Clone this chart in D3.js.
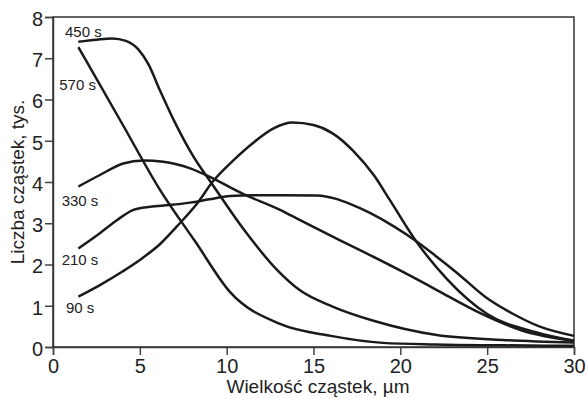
<!DOCTYPE HTML>
<html>
  <head>
    <meta charset='utf-8'>
    <title>Liczba cząstek</title>
    <script src='https://d3js.org/d3.v7.min.js'></script>
  </head>
  <style>
    body {margin:0; background:white;}
    .tick text {font-family:'Liberation Sans',Arial,sans-serif; font-size:20px; fill:#222;}
    .axis_title {font-family:'Liberation Sans',Arial,sans-serif; font-size:19px; fill:#222;}
    .curve_label {font-family:'Liberation Sans',Arial,sans-serif; font-size:15px; fill:#222;}
  </style>
  <body>
    <svg id='chart'></svg>
<script>
  // values: particle size (um) vs count (thousands)
  var seriesNames=['90 s','210 s','330 s','450 s','570 s'];
  var size90=[1.46,2.7,4.0,5.0,6.2,7.3,8.3,9.2,10.4,11.5,12.7,13.8,15.0,16.1,17.3,18.5,19.4,20.9,22.7,25.0,27.8,30];
  var count90=[1.22,1.50,1.83,2.11,2.51,3.00,3.48,4.01,4.53,4.94,5.30,5.44,5.38,5.18,4.75,4.15,3.56,2.57,1.64,0.80,0.36,0.15];
  var size210=[1.46,2.7,3.7,4.6,5.6,6.7,7.9,9.0,10.2,11.5,13.1,15.2,16.3,17.1,18.25,19.6,20.9,22.0,23.2,25.0,26.5,28.0,30];
  var count210=[2.39,2.76,3.08,3.32,3.40,3.44,3.50,3.58,3.66,3.68,3.68,3.67,3.59,3.47,3.25,2.93,2.57,2.22,1.82,1.18,0.80,0.50,0.27];
  var size330=[1.46,2.7,4.05,5.2,6.35,7.9,9.0,10.2,10.8,13.1,14.2,16.5,18.25,20.7,22.1,24.6,27.0,30];
  var count330=[3.89,4.17,4.45,4.52,4.49,4.33,4.13,3.87,3.74,3.32,3.08,2.59,2.23,1.70,1.38,0.82,0.40,0.15];
  var size450=[1.46,2.5,3.4,4.2,4.9,5.5,6.16,7.12,8.08,9.13,11.0,12.9,14.2,16.1,18.5,22.1,25.9,30];
  var count450=[7.40,7.45,7.48,7.42,7.22,6.85,6.22,5.36,4.62,3.97,2.84,1.87,1.38,0.98,0.63,0.29,0.17,0.11];
  var size570=[1.46,4.0,6.16,8.2,10.2,13.07,16.0,19.0,22.0,26.0,30];
  var count570=[7.27,5.40,3.81,2.55,1.33,0.56,0.27,0.10,0.06,0.04,0.03];
  var xTicks=[0,5,10,15,20,25,30], yTicks=[0,1,2,3,4,5,6,7,8];
  // label anchors in data units (left, baseline)
  var labelSize=[0.75,0.50,0.50,0.69,0.36], labelCount=[0.82,1.99,3.42,7.52,6.23];

  var width=587, height=399;
  var margin={top:17,right:13,bottom:52,left:53};
  var svg=d3.select('#chart').attr('width',width).attr('height',height);
  var x=d3.scaleLinear().domain([0,30]).range([margin.left,width-margin.right]),
      y=d3.scaleLinear().domain([0,8]).range([height-margin.bottom,margin.top]);

  var sizes=[size90,size210,size330,size450,size570],
      counts=[count90,count210,count330,count450,count570];
  var series=seriesNames.map(function(name,i) {
    return {name:name, points:sizes[i].map(function(s,j) {return {s:s,c:counts[i][j]};})};});

  var line=d3.line().curve(d3.curveMonotoneX)
             .x(function(d) {return x(d.s);})
             .y(function(d) {return y(d.c);});

  svg.append('g').attr('transform',`translate(0,${height-margin.bottom})`)
     .call(d3.axisBottom(x).tickValues(xTicks).tickSize(8).tickPadding(4))
     .call(g=>g.selectAll('line,path').attr('stroke','#444').attr('stroke-width',1.5));
  svg.append('g').attr('transform',`translate(${margin.left},0)`)
     .call(d3.axisLeft(y).tickValues(yTicks).tickSize(8).tickPadding(2))
     .call(g=>g.selectAll('line,path').attr('stroke','#444').attr('stroke-width',1.5))
     .call(g=>g.selectAll('text').attr('dy','0.42em'));
  svg.append('rect')
     .attr('x',margin.left).attr('y',margin.top)
     .attr('width',width-margin.left-margin.right)
     .attr('height',height-margin.top-margin.bottom)
     .attr('fill','none').attr('stroke','#333').attr('stroke-width',1.5);

  svg.selectAll('path.curve').data(series).enter().append('path')
     .attr('class','curve')
     .attr('d',function(d) {return line(d.points);})
     .attr('fill','none').attr('stroke','#1a1a1a').attr('stroke-width',2.5);

  svg.selectAll('text.curve_label').data(series).enter().append('text')
     .attr('class','curve_label')
     .attr('x',function(d,i) {return x(labelSize[i]);})
     .attr('y',function(d,i) {return y(labelCount[i]);})
     .text(function(d) {return d.name;});

  svg.append('text').attr('class','axis_title')
     .attr('x',318).attr('y',393).attr('text-anchor','middle')
     .text('Wielkość cząstek, µm');
  svg.append('text').attr('class','axis_title')
     .attr('transform',`translate(24,${(margin.top+height-margin.bottom)/2}) rotate(-90)`)
     .attr('text-anchor','middle')
     .text('Liczba cząstek, tys.');
</script>
  </body>
</html>
